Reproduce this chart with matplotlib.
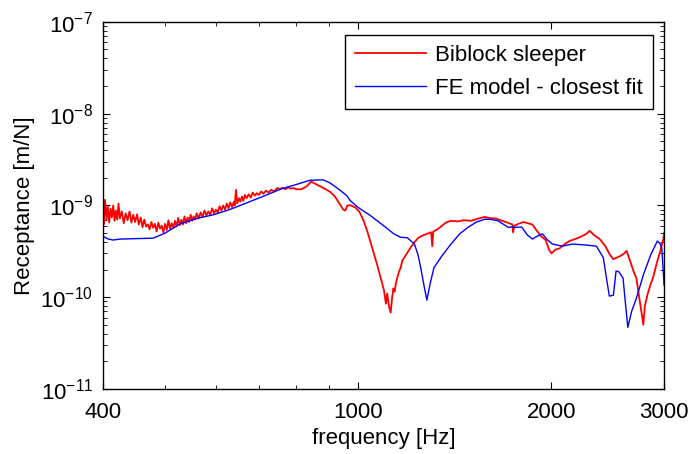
import matplotlib
matplotlib.use("Agg")
import matplotlib.pyplot as plt
import numpy as np
from matplotlib.ticker import FixedLocator, NullFormatter, LogLocator

plt.rcParams['font.family'] = ['Liberation Sans', 'DejaVu Sans']
plt.rcParams['mathtext.fontset'] = 'custom'
plt.rcParams['mathtext.rm'] = 'Liberation Sans'

# measured receptance, biblock sleeper
freq_meas = [400, 401, 403, 405, 407, 409, 411, 413, 415, 417, 419, 421, 423, 425,
             428, 431, 434, 437, 440, 443, 446, 449, 452, 455, 458, 461, 464, 467,
             470, 473, 476, 479, 482, 485, 488, 491, 494, 497, 500, 503, 506, 509,
             512, 515, 518, 521, 524, 527, 530, 533, 536, 539, 542, 545, 548, 551,
             554, 557, 560, 564, 568, 572, 576, 580, 584, 588, 592, 596, 600, 604,
             608, 612, 616, 620, 624, 628, 632, 636, 640, 642, 645, 648, 652, 655,
             659, 662, 666, 670, 675, 680, 685, 690, 695, 700, 706, 712, 718, 725,
             732, 740, 748, 755, 762, 770, 778, 785, 792, 800, 815, 830, 845, 860,
             875, 890, 905, 920, 935, 948, 955, 962, 975, 990, 1005, 1020, 1033,
             1050, 1070, 1085, 1097, 1105, 1110, 1117, 1124, 1130, 1135, 1140, 1145,
             1150, 1158, 1165, 1172, 1180, 1188, 1195, 1208, 1225, 1240, 1252, 1270,
             1290, 1300, 1305, 1310, 1330, 1347, 1370, 1396, 1430, 1460, 1500, 1540,
             1575, 1600, 1640, 1677, 1710, 1740, 1745, 1752, 1778, 1810, 1840, 1869,
             1900, 1930, 1961, 1985, 2003, 2030, 2061, 2100, 2137, 2180, 2230, 2270,
             2296, 2330, 2381, 2430, 2470, 2501, 2560, 2600, 2622, 2650, 2690, 2717,
             2750, 2770, 2785, 2800, 2830, 2860, 2885, 2920, 2960, 2990, 3000]
rec_meas = [9.0e-10, 6.2e-10, 1.15e-9, 7.0e-10, 9.8e-10, 6.5e-10, 9.2e-10, 7.4e-10,
            1.0e-9, 6.8e-10, 8.8e-10, 7.0e-10, 1.05e-9, 7.2e-10, 8.6e-10, 6.4e-10,
            8.2e-10, 6.9e-10, 8.6e-10, 6.5e-10, 7.9e-10, 6.6e-10, 8.0e-10, 6.2e-10,
            7.4e-10, 5.8e-10, 7.0e-10, 5.9e-10, 6.2e-10, 5.5e-10, 6.6e-10, 5.7e-10,
            6.3e-10, 5.2e-10, 6.5e-10, 5.6e-10, 6.0e-10, 5.1e-10, 6.3e-10, 5.4e-10,
            6.9e-10, 5.6e-10, 6.4e-10, 5.7e-10, 6.8e-10, 5.9e-10, 7.3e-10, 6.1e-10,
            7.0e-10, 6.2e-10, 7.6e-10, 6.4e-10, 7.4e-10, 6.6e-10, 7.9e-10, 6.8e-10,
            7.6e-10, 7.0e-10, 8.2e-10, 7.2e-10, 8.4e-10, 7.5e-10, 8.8e-10, 7.8e-10,
            8.6e-10, 7.9e-10, 9.3e-10, 8.2e-10, 9.0e-10, 8.4e-10, 9.8e-10, 8.8e-10,
            1.0e-9, 9.0e-10, 1.05e-9, 9.3e-10, 1.08e-9, 9.6e-10, 1.1e-9, 1.0e-9,
            1.48e-9, 1.05e-9, 1.2e-9, 1.1e-9, 1.25e-9, 1.12e-9, 1.3e-9, 1.2e-9,
            1.32e-9, 1.22e-9, 1.38e-9, 1.28e-9, 1.36e-9, 1.3e-9, 1.42e-9, 1.34e-9,
            1.45e-9, 1.38e-9, 1.48e-9, 1.42e-9, 1.55e-9, 1.5e-9, 1.56e-9, 1.5e-9,
            1.58e-9, 1.52e-9, 1.55e-9, 1.5e-9, 1.5e-9, 1.6e-9, 1.82e-9, 1.7e-9,
            1.6e-9, 1.5e-9, 1.4e-9, 1.25e-9, 1.05e-9, 9.0e-10, 8.8e-10, 1.0e-9,
            1.0e-9, 9.5e-10, 8.5e-10, 6.8e-10, 5.3e-10, 3.6e-10, 2.3e-10, 1.6e-10,
            1.2e-10, 8.5e-11, 1.1e-10, 8.0e-11, 6.8e-11, 1.0e-10, 1.25e-10, 1.15e-10,
            1.4e-10, 1.6e-10, 1.9e-10, 2.1e-10, 2.5e-10, 2.7e-10, 2.9e-10, 3.1e-10,
            3.5e-10, 4.0e-10, 4.4e-10, 4.6e-10, 4.8e-10, 5.0e-10, 5.1e-10, 3.6e-10,
            5.2e-10, 5.5e-10, 5.9e-10, 6.5e-10, 6.8e-10, 6.7e-10, 6.9e-10, 6.8e-10,
            7.2e-10, 7.5e-10, 7.3e-10, 7.2e-10, 6.8e-10, 6.5e-10, 6.2e-10, 5.1e-10,
            6.0e-10, 6.3e-10, 6.6e-10, 6.4e-10, 6.2e-10, 5.3e-10, 4.6e-10, 4.2e-10,
            3.3e-10, 3.0e-10, 3.3e-10, 3.4e-10, 3.8e-10, 4.1e-10, 4.3e-10, 4.6e-10,
            4.9e-10, 5.3e-10, 4.8e-10, 4.3e-10, 3.6e-10, 2.9e-10, 2.6e-10, 2.8e-10,
            3.0e-10, 3.2e-10, 2.6e-10, 1.9e-10, 1.6e-10, 9e-11, 6.5e-11, 5.0e-11,
            8e-11, 1.1e-10, 1.4e-10, 1.65e-10, 2.3e-10, 3.2e-10, 4.2e-10, 5.0e-10]

# FE model, closest fit
freq_fe = [400, 408, 415, 425, 450, 479, 500, 528, 560, 594, 630, 671, 710, 756, 803,
           841, 882, 905, 927, 960, 972, 1000, 1044, 1090, 1137, 1165, 1193, 1224,
           1240, 1252, 1268, 1280, 1295, 1313, 1350, 1396, 1440, 1485, 1530, 1578,
           1620, 1653, 1712, 1760, 1800, 1835, 1869, 1900, 1938, 1975, 2009, 2082,
           2159, 2269, 2353, 2412, 2440, 2465, 2501, 2525, 2550, 2589, 2610, 2634,
           2670, 2717, 2785, 2860, 2929, 2960, 2976, 2990, 3000]
rec_fe = [4.6e-10, 4.3e-10, 4.2e-10, 4.3e-10, 4.35e-10, 4.4e-10, 5.0e-10, 6.3e-10,
          7.2e-10, 7.9e-10, 9.0e-10, 1.07e-9, 1.25e-9, 1.5e-9, 1.7e-9, 1.88e-9,
          1.9e-9, 1.75e-9, 1.55e-9, 1.28e-9, 1.13e-9, 9.5e-10, 7.8e-10, 6.2e-10,
          4.9e-10, 4.5e-10, 4.45e-10, 3.8e-10, 2.9e-10, 2.1e-10, 1.3e-10, 9.3e-11,
          1.4e-10, 2.1e-10, 2.8e-10, 3.8e-10, 4.9e-10, 5.8e-10, 6.6e-10, 7.1e-10,
          7.0e-10, 6.8e-10, 5.8e-10, 5.8e-10, 5.8e-10, 4.8e-10, 4.3e-10, 4.6e-10,
          4.9e-10, 4.2e-10, 3.8e-10, 3.6e-10, 3.8e-10, 3.7e-10, 3.6e-10, 2.7e-10,
          1.6e-10, 1.03e-10, 1.05e-10, 1.93e-10, 1.9e-10, 1.62e-10, 9e-11, 4.7e-11,
          7e-11, 9.8e-11, 1.75e-10, 2.9e-10, 4.1e-10, 3.8e-10, 3.4e-10, 2.0e-10,
          1.36e-10]

xticks = [400, 1000, 2000, 3000]
xminor = [500, 600, 700, 800, 900]

fig = plt.figure(figsize=(6.91, 4.54), dpi=100)
ax = fig.add_axes([0.149, 0.143, 0.812, 0.809])

ax.loglog(freq_meas, rec_meas, color='red', lw=1.3, label='Biblock sleeper')
ax.loglog(freq_fe, rec_fe, color='blue', lw=1.0, label='FE model - closest fit')

ax.set_xlim(400, 3000)
ax.set_ylim(1e-11, 1e-7)
ax.xaxis.set_major_locator(FixedLocator(xticks))
ax.xaxis.set_minor_locator(FixedLocator(xminor))
ax.set_xticklabels([str(t) for t in xticks])
ax.xaxis.set_minor_formatter(NullFormatter())
ax.yaxis.set_major_locator(LogLocator(base=10, numticks=10))
ax.yaxis.set_minor_locator(LogLocator(base=10, subs=np.arange(2, 10), numticks=20))
ax.yaxis.set_minor_formatter(NullFormatter())

ax.tick_params(which='both', direction='in', top=True, right=True, labelsize=16)
ax.tick_params(which='major', length=5)
ax.tick_params(which='minor', length=3)
ax.tick_params(axis='x', pad=9)
ax.tick_params(axis='y', pad=7)
for s in ax.spines.values():
    s.set_linewidth(1.0)

ax.set_xlabel('frequency [Hz]', fontsize=16, labelpad=4)
ax.set_ylabel('Receptance [m/N]', fontsize=16, labelpad=4)

leg = ax.legend(loc='upper right', bbox_to_anchor=(653 / 691, 1 - 35 / 454),
                bbox_transform=fig.transFigure, borderaxespad=0, fontsize=16,
                fancybox=False, framealpha=1, edgecolor='black', handlelength=3.2,
                handletextpad=0.4, labelspacing=0.55, borderpad=0.45)
leg.get_frame().set_linewidth(1.0)

fig.savefig('out.png', dpi=100)
